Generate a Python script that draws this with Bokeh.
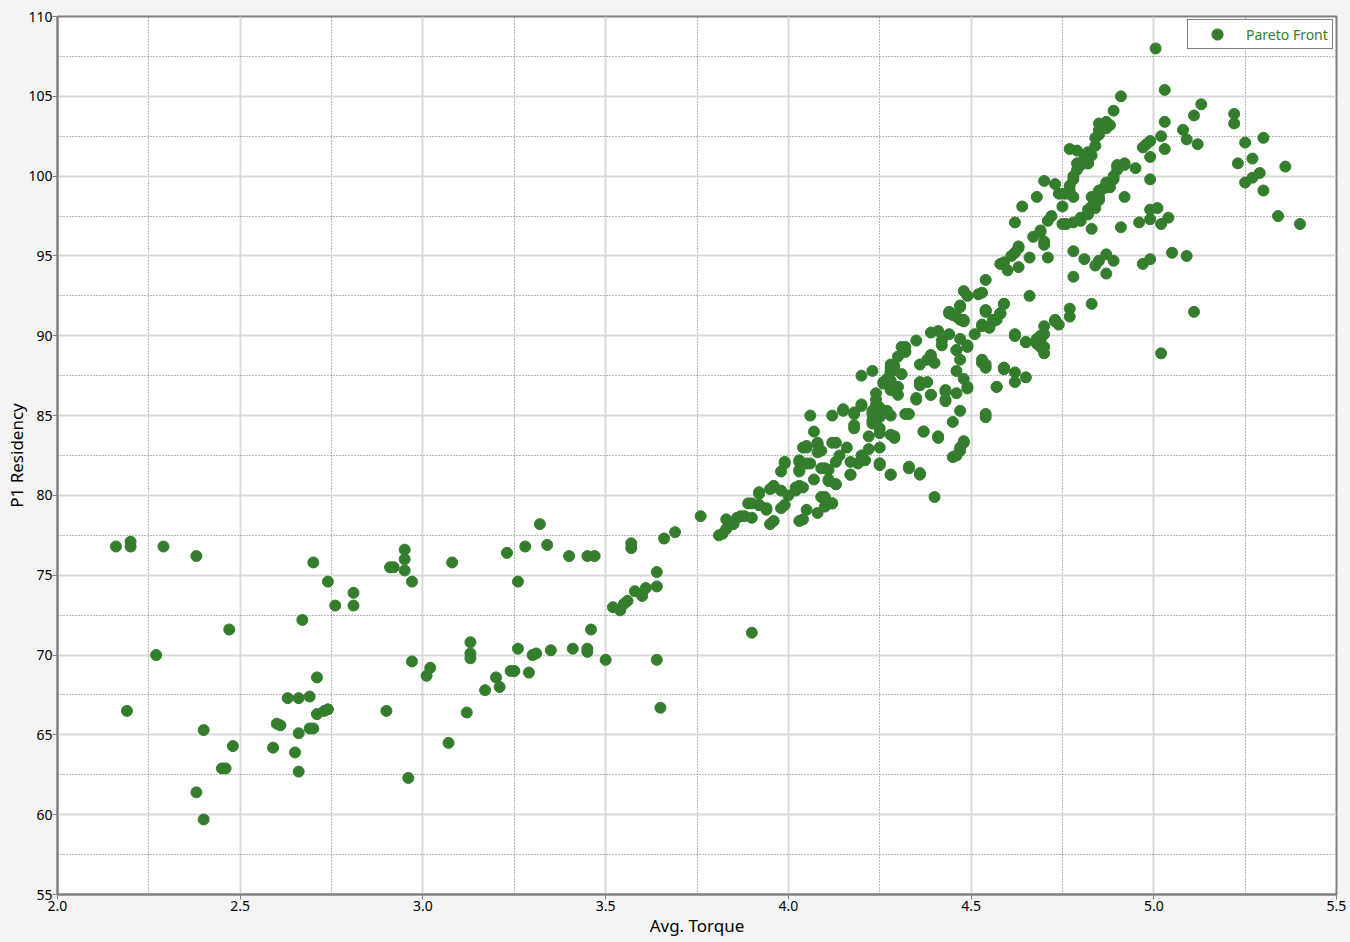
from bokeh.plotting import figure
from bokeh.models import Range1d, FixedTicker, PrintfTickFormatter, Legend, LegendItem, ColumnDataSource
from bokeh.embed import file_html
from bokeh.resources import INLINE

# Left / middle region points
torque_a = [2.16, 2.20, 2.20, 2.29, 2.38, 2.70, 2.74, 2.81, 2.76, 2.81, 2.67, 2.47, 2.27, 2.71, 2.63, 2.66, 2.69,
            2.19, 2.73, 2.74, 2.71, 2.60, 2.61, 2.69, 2.70, 2.66, 2.40, 2.48, 2.59, 2.65, 2.45, 2.46, 2.66, 2.38, 2.40]
resid_a = [76.8, 77.1, 76.8, 76.8, 76.2, 75.8, 74.6, 73.9, 73.1, 73.1, 72.2, 71.6, 70.0, 68.6, 67.3, 67.3, 67.4,
           66.5, 66.5, 66.6, 66.3, 65.7, 65.6, 65.4, 65.4, 65.1, 65.3, 64.3, 64.2, 63.9, 62.9, 62.9, 62.7, 61.4, 59.7]

torque_b = [2.91, 2.92, 2.95, 2.95, 2.95, 2.97, 3.08, 2.90, 2.97, 3.01, 3.02, 2.96, 3.07, 3.12, 3.13, 3.13, 3.13,
            3.17, 3.20, 3.21, 3.24, 3.25, 3.26, 3.29, 3.30, 3.31, 3.35, 3.41, 3.45, 3.45, 3.46, 3.50, 3.64, 3.65,
            3.23, 3.26, 3.28, 3.32, 3.34, 3.40, 3.45, 3.47, 3.52, 3.54, 3.55, 3.56, 3.57, 3.57, 3.58, 3.60, 3.61,
            3.64, 3.64, 3.66, 3.69, 3.76, 3.90]
resid_b = [75.5, 75.5, 75.3, 76.6, 76.0, 74.6, 75.8, 66.5, 69.6, 68.7, 69.2, 62.3, 64.5, 66.4, 70.8, 70.1, 69.8,
           67.8, 68.6, 68.0, 69.0, 69.0, 70.4, 68.9, 70.0, 70.1, 70.3, 70.4, 70.4, 70.2, 71.6, 69.7, 69.7, 66.7,
           76.4, 74.6, 76.8, 78.2, 76.9, 76.2, 76.2, 76.2, 73.0, 72.8, 73.2, 73.4, 77.0, 76.7, 74.0, 73.7, 74.2,
           74.3, 75.2, 77.3, 77.7, 78.7, 71.4]

# Dense region 3.8 - 4.7
torque_c = [3.82, 3.83, 3.83, 3.85, 3.86, 3.88, 3.90, 3.90, 3.92, 3.92, 3.94, 3.95, 3.96, 3.95, 3.96, 3.98, 3.98,
            3.99, 4.00, 3.98, 3.99, 4.02, 4.02, 4.03, 4.04, 4.03, 4.03, 4.04, 4.05, 4.06, 4.07, 4.05, 4.04, 4.06,
            4.07, 4.08, 4.08, 4.09, 4.09, 4.10, 4.08, 4.09, 4.10, 4.11, 4.11, 4.12, 4.12, 4.12, 4.13, 4.13, 4.13,
            4.14, 4.15, 4.16, 4.17, 4.17, 4.18, 4.18, 4.18, 4.20, 4.19, 4.20, 4.21, 4.22, 4.22, 4.23, 4.23, 4.24,
            4.25, 3.81, 3.87, 3.89, 3.92, 3.94, 3.92, 3.96, 3.99, 4.03, 4.03, 4.05, 4.03, 4.05, 4.08, 4.10, 4.12,
            4.11, 4.13, 4.17, 4.15, 4.20, 4.18, 4.26, 4.27, 4.25, 4.32, 4.37, 4.41, 4.36, 4.39, 4.43, 4.49, 4.33,
            4.36, 4.25, 4.28]
resid_c = [77.6, 77.9, 78.5, 78.2, 78.6, 78.7, 78.6, 79.5, 80.2, 79.4, 79.1, 78.2, 78.4, 80.4, 80.6, 80.3, 79.2,
           79.4, 80.0, 81.5, 82.0, 80.3, 80.5, 80.6, 80.5, 82.1, 81.5, 83.0, 83.1, 85.0, 84.0, 79.1, 78.5, 82.0,
           81.0, 83.2, 82.7, 82.8, 79.9, 79.3, 78.9, 81.7, 81.7, 81.6, 80.9, 79.5, 83.3, 85.0, 83.3, 80.7, 82.1,
           82.5, 85.3, 83.0, 82.1, 81.3, 84.2, 84.4, 85.1, 85.6, 82.0, 82.5, 82.2, 83.7, 82.9, 84.5, 85.1, 85.7,
           82.0, 77.5, 78.7, 79.5, 79.4, 79.2, 80.1, 80.5, 82.1, 78.4, 82.2, 82.0, 81.6, 83.0, 83.3, 79.9, 79.5,
           81.0, 80.7, 81.3, 85.4, 85.7, 85.2, 87.0, 85.2, 84.2, 85.1, 84.0, 83.6, 87.1, 86.3, 85.9, 86.8, 81.7,
           81.3, 81.9, 87.2]

torque_d = [4.23, 4.23, 4.24, 4.24, 4.25, 4.25, 4.25, 4.25, 4.25, 4.26, 4.27, 4.28, 4.28, 4.28, 4.28, 4.27, 4.28,
            4.29, 4.30, 4.30, 4.31, 4.29, 4.28, 4.30, 4.31, 4.32, 4.33, 4.33, 4.35, 4.35, 4.36, 4.36, 4.37, 4.36,
            4.38, 4.39, 4.38, 4.39, 4.40, 4.39, 4.41, 4.40, 4.41, 4.42, 4.42, 4.43, 4.43, 4.44, 4.44, 4.45, 4.45,
            4.46, 4.46, 4.46, 4.46, 4.47, 4.47, 4.47, 4.47, 4.48, 4.48, 4.48, 4.49, 4.49, 4.51, 4.53, 4.53, 4.54,
            4.54, 4.54, 4.54, 4.55, 4.56, 4.58, 4.59, 4.57, 4.59, 4.62, 4.62, 4.62, 4.20, 4.23]
resid_d = [84.7, 85.3, 86.0, 86.4, 85.5, 84.9, 83.9, 83.0, 82.0, 87.1, 87.3, 87.8, 88.0, 86.6, 85.0, 85.3, 88.2,
           86.7, 86.8, 86.3, 87.6, 83.7, 81.3, 88.7, 89.3, 89.0, 85.1, 81.8, 89.7, 86.0, 88.2, 81.4, 84.0, 86.9,
           87.1, 86.3, 88.5, 88.8, 88.3, 90.2, 90.3, 79.9, 83.7, 89.4, 89.7, 86.6, 86.0, 91.4, 90.1, 84.6, 82.4,
           91.2, 89.1, 87.8, 86.4, 85.3, 91.9, 88.5, 82.8, 83.3, 91.0, 87.3, 89.4, 86.7, 90.1, 90.6, 88.3, 88.0,
           91.6, 85.1, 84.9, 90.6, 90.9, 91.4, 92.0, 86.8, 87.9, 87.7, 87.1, 90.1, 87.5, 87.8]

torque_e = [4.54, 4.48, 4.49, 4.52, 4.66, 4.59, 4.54, 4.58, 4.56, 4.53, 4.55, 4.44, 4.45, 4.47, 4.47, 4.48, 4.47,
            4.49, 4.46, 4.32, 4.32, 4.39, 4.29, 4.28, 4.65, 4.62, 4.65, 4.68, 4.48, 4.47, 4.46, 4.35, 4.43, 4.28,
            4.29, 4.28, 4.53, 4.59, 4.57]
resid_e = [93.5, 92.8, 92.5, 92.6, 92.5, 92.0, 91.5, 91.4, 91.0, 90.7, 90.5, 91.5, 91.3, 91.8, 91.0, 90.9, 89.8,
           89.3, 89.1, 89.3, 89.0, 88.6, 88.1, 87.7, 87.4, 90.0, 89.6, 89.8, 83.4, 83.0, 82.5, 86.1, 86.5, 81.3,
           83.6, 83.8, 88.5, 88.0, 86.8]

# Upper right region 4.6 - 5.4
torque_f = [4.91, 4.89, 4.87, 4.85, 4.88, 4.85, 4.84, 4.84, 4.82, 4.77, 4.79, 4.81, 4.80, 4.82, 4.79, 4.78, 4.77,
            4.78, 4.76, 4.70, 4.73, 4.74, 4.68, 4.64, 4.75, 4.72, 4.71, 4.75, 4.78, 4.80, 4.82, 4.83, 4.84, 4.85,
            4.84, 4.85, 4.87, 4.86, 4.89, 4.88, 4.90, 4.90, 4.92, 4.95, 4.92, 4.91, 4.83, 4.69, 4.67, 4.70, 4.71,
            4.66, 4.63, 4.62, 4.59, 4.60, 4.58, 4.63, 4.78, 4.81, 4.84, 4.85, 4.87, 4.89, 4.87, 4.78, 4.97, 4.99,
            5.05, 5.09, 4.96, 4.99, 4.99, 5.01, 5.02, 5.04, 4.99, 4.97, 4.99, 5.02, 5.03, 5.03, 5.03, 5.08, 5.09,
            5.12, 5.11, 5.13, 5.22, 5.22, 5.25, 5.30, 5.27, 5.29, 5.27, 5.25, 5.23, 5.30, 5.36, 5.34, 5.40, 5.11,
            5.02, 4.83, 5.005]
resid_f = [105.0, 104.1, 103.4, 103.3, 103.2, 102.9, 102.4, 101.9, 101.5, 101.7, 101.6, 101.1, 100.7, 100.8, 100.4,
           99.8, 99.4, 98.7, 98.9, 99.7, 99.5, 98.9, 98.7, 98.1, 98.1, 97.5, 97.2, 97.0, 97.1, 97.2, 97.6, 98.1,
           98.6, 98.5, 98.0, 98.7, 99.3, 99.2, 99.8, 99.3, 100.4, 100.7, 100.8, 100.5, 98.7, 96.8, 96.7, 96.5,
           96.2, 95.9, 94.9, 94.9, 95.6, 95.2, 94.6, 94.1, 94.5, 94.3, 95.3, 94.8, 94.4, 94.7, 95.1, 94.7, 93.9,
           93.7, 94.5, 94.8, 95.2, 95.0, 97.1, 97.3, 97.9, 98.0, 97.0, 97.4, 99.8, 101.8, 102.2, 102.5, 103.4,
           101.7, 105.4, 102.9, 102.3, 102.0, 103.8, 104.5, 103.9, 103.3, 102.1, 102.4, 101.1, 100.2, 99.9, 99.6,
           100.8, 99.1, 100.6, 97.5, 97.0, 91.5, 88.9, 92.0, 108.0]

torque_g = [4.77, 4.77, 4.73, 4.74, 4.70, 4.70, 4.69, 4.70, 4.69, 4.65, 4.62, 4.58, 4.57, 4.54, 4.53, 4.54, 4.59,
            4.81, 4.77, 4.75, 4.82, 4.83, 4.85, 4.87, 4.85, 4.87, 4.89, 4.90, 4.92, 4.83, 4.82, 4.80, 4.76, 4.98,
            4.99, 4.62, 4.78, 4.79, 4.69, 4.70, 4.63, 4.61, 4.73, 4.69, 4.68, 4.70]
resid_g = [91.7, 91.2, 91.0, 90.7, 90.6, 90.1, 89.7, 88.9, 89.3, 89.6, 90.0, 91.4, 91.0, 91.6, 92.7, 88.2, 88.0,
           100.9, 99.1, 98.9, 100.8, 101.3, 102.6, 99.6, 99.1, 103.0, 100.0, 100.6, 100.7, 98.7, 97.9, 97.4, 97.0,
           102.0, 101.2, 97.1, 100.0, 100.8, 96.6, 95.7, 95.5, 95.0, 90.9, 90.0, 89.5, 89.3]

torque = torque_a + torque_b + torque_c + torque_d + torque_e + torque_f + torque_g
residency = resid_a + resid_b + resid_c + resid_d + resid_e + resid_f + resid_g

x_major = [2.0, 2.5, 3.0, 3.5, 4.0, 4.5, 5.0, 5.5]
x_minor = [2.25, 2.75, 3.25, 3.75, 4.25, 4.75, 5.25]
y_major = [55, 60, 65, 70, 75, 80, 85, 90, 95, 100, 105, 110]
y_minor = [57.5, 62.5, 67.5, 72.5, 77.5, 82.5, 87.5, 92.5, 97.5, 102.5, 107.5]

GREEN = "#347d2d"
FONT = "Noto Sans"

p = figure(width=1350, height=942, output_backend="svg", toolbar_location=None,
           x_range=Range1d(2.0, 5.5), y_range=Range1d(55, 110),
           min_border_left=57, min_border_right=14, min_border_top=16, min_border_bottom=48)
p.background_fill_color = "white"
p.border_fill_color = "#f4f4f4"
p.outline_line_color = "#808080"
p.outline_line_width = 2

p.xaxis.ticker = FixedTicker(ticks=x_major, minor_ticks=x_minor)
p.yaxis.ticker = FixedTicker(ticks=y_major, minor_ticks=y_minor)
p.xaxis.formatter = PrintfTickFormatter(format="%.1f")
p.yaxis.formatter = PrintfTickFormatter(format="%d")

for ax in (p.xaxis, p.yaxis):
    ax.axis_line_color = "#808080"
    ax.axis_line_width = 2
    ax.major_tick_line_color = "#808080"
    ax.major_tick_out = 5
    ax.major_tick_in = 0
    ax.minor_tick_line_color = None
    ax.major_label_text_font = FONT
    ax.major_label_text_font_size = "14px"
    ax.major_label_text_color = "black"
    ax.major_label_standoff = 1
    ax.axis_label_text_font = FONT
    ax.axis_label_text_font_size = "17px"
    ax.axis_label_text_font_style = "normal"
    ax.axis_label_text_color = "black"
    ax.axis_label_standoff = 0

p.yaxis.major_label_standoff = 0
p.yaxis.axis_label_standoff = -3

p.xaxis.axis_label = "Avg. Torque"
p.yaxis.axis_label = "P1 Residency"

for g in (p.xgrid, p.ygrid):
    g.grid_line_color = "#d9d9d9"
    g.grid_line_width = 2
    g.minor_grid_line_color = "#707070"
    g.minor_grid_line_width = 1
    g.minor_grid_line_dash = "1 2"

src = ColumnDataSource(data=dict(x=torque, y=residency))
r = p.scatter("x", "y", source=src, size=11, fill_color=GREEN, line_color=GREEN, line_width=1)

legend = Legend(items=[LegendItem(label="Pareto Front", renderers=[r])], location="top_right")
legend.border_line_color = "black"
legend.border_line_width = 1
legend.background_fill_color = "white"
legend.background_fill_alpha = 1
legend.label_text_color = GREEN
legend.label_text_font = FONT
legend.label_text_font_size = "14px"
legend.padding = 0
legend.spacing = 0
legend.margin = 3
legend.glyph_width = 58
legend.glyph_height = 28
legend.label_height = 28
legend.label_width = 86
legend.label_standoff = 0
p.add_layout(legend)

html = file_html(p, INLINE)
html = html.replace("<head>", "<head><style>body{background:#f4f4f4;}</style>", 1)
open("out.html", "w").write(html)
